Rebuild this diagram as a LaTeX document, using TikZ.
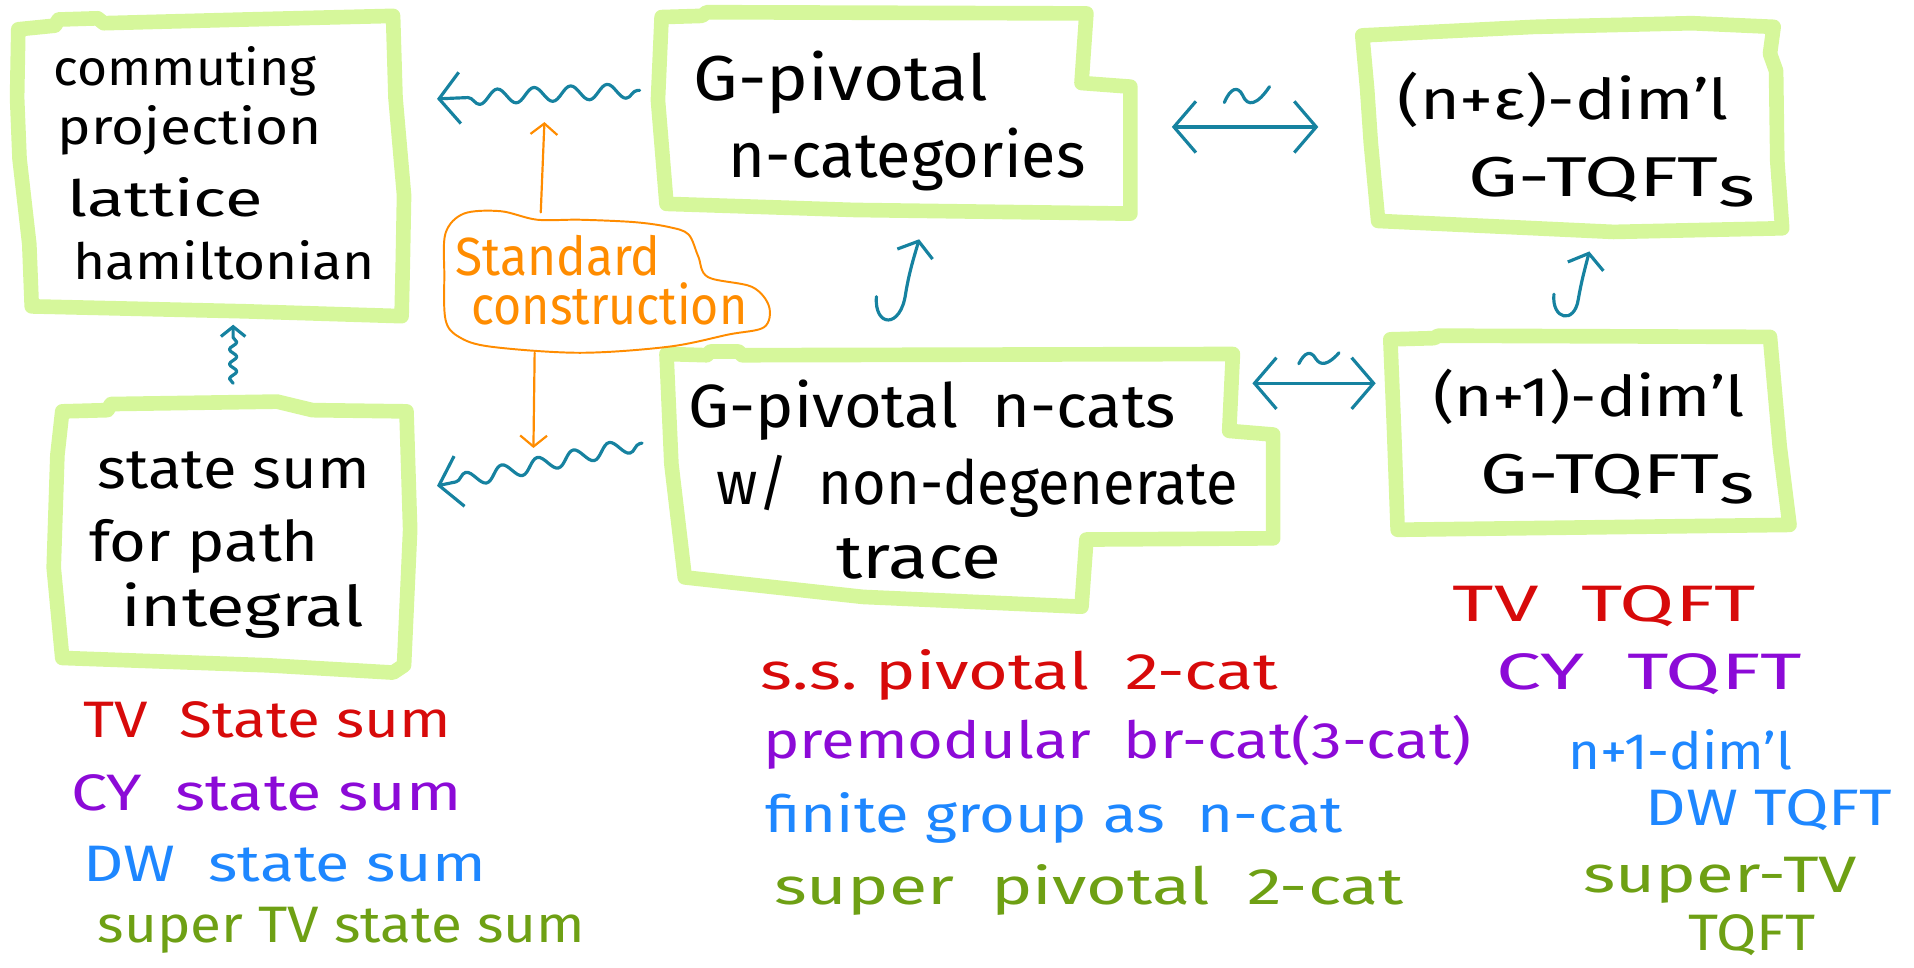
\documentclass[tikz,border=0pt]{standalone}
\usepackage{fontspec}
\setmainfont{Fira Sans}
\usetikzlibrary{arrows.meta,decorations.pathmorphing}
\definecolor{boxgreen}{RGB}{214,247,155}
\definecolor{tealc}{RGB}{22,130,160}
\definecolor{orng}{RGB}{255,140,0}
\definecolor{hred}{RGB}{215,10,10}
\definecolor{hpurple}{RGB}{140,10,215}
\definecolor{hblue}{RGB}{30,135,255}
\definecolor{hgreen}{RGB}{110,160,20}
\newcommand\fitw[2]{\resizebox{#1pt}{\height}{#2}}
\newcommand\tqs{G-TQFT\raisebox{-0.18em}{s}}
\begin{document}
\begin{tikzpicture}[x=1pt,y=-1pt,
  frame/.style={draw=boxgreen, line width=12pt, line join=round, line cap=round},
  hw/.style={inner sep=0pt, anchor=base west},
  fa/.style={hw, font=\fontsize{41}{46}\selectfont},
  fb/.style={hw, font=\fontsize{52}{58}\selectfont},
  fc/.style={hw, font=\fontsize{46}{52}\selectfont},
  fe/.style={hw, font=\fontsize{50}{56}\selectfont},
  fl/.style={hw, font=\fontsize{42}{48}\selectfont},
  conn/.style={draw=tealc, line width=2.6pt, line cap=round, line join=round},
  wavy/.style={decorate, decoration={snake, amplitude=6pt, segment length=30pt, pre length=2pt, post length=12pt}},
  bigbarb/.style={-{Straight Barb[length=17pt,width=42pt]}},
  dbarb/.style={{Straight Barb[length=18pt,width=42pt]}-{Straight Barb[length=18pt,width=42pt]}},
  hookbarb/.style={-{Straight Barb[length=11pt,width=30pt]}},
  oarr/.style={draw=orng, line width=1.8pt, line cap=round, -{Straight Barb[length=9pt,width=22pt]}}
]
\useasboundingbox (0,0) rectangle (1568,793);

% ---------- green frames ----------
\draw[frame] (15,24) -- (45,21) -- (48,16) -- (80,15) -- (85,19) -- (200,16) -- (322,13) -- (324,80) -- (331,160) -- (330,215) -- (329,259) -- (200,255) -- (26,251) -- (24,200) -- (16,130) -- (14,80) -- cycle;
\draw[frame] (542,14) -- (575,13) -- (579,10) -- (890,11) -- (886,68) -- (926,71) -- (926,175) -- (700,172) -- (546,167) -- (539,82) -- cycle;
\draw[frame] (1116,29) -- (1257,22) -- (1386,19) -- (1453,22) -- (1450,44) -- (1455,58) -- (1456,132) -- (1460,187) -- (1322,190) -- (1129,181) -- (1123,117) -- (1120,73) -- cycle;
\draw[frame] (1139,278) -- (1175,277) -- (1178,275) -- (1450,276) -- (1458,366) -- (1466,430) -- (1145,434) -- (1142,351) -- cycle;
\draw[frame] (546,290) -- (579,291) -- (582,288) -- (605,288) -- (608,291) -- (1010,290) -- (1007,353) -- (1043,356) -- (1043,441) -- (890,442) -- (886,497) -- (707,489) -- (561,473) -- (550,380) -- cycle;
\draw[frame] (51,337) -- (88,336) -- (91,331) -- (227,329) -- (256,336) -- (333,337) -- (336,434) -- (331,545) -- (322,551) -- (219,545) -- (51,539) -- (44,465) -- (47,373) -- cycle;

% ---------- box texts ----------
\node[fa] (tA1) at (44,70)  {\fitw{215}{commuting}};
\node[fa] (tA2) at (47,118) {\fitw{216}{projection}};
\node[fa] (tA3) at (55,177) {\fitw{160}{lattice}};
\node[fa] (tA4) at (60,229) {\fitw{247}{hamiltonian}};

\node[fb] (tB1) at (568,82)  {\fitw{241}{G-pivotal}};
\node[fb] (tB2) at (597,145) {\fitw{292}{n-categories}};

\node[fc] (tC1) at (1145,98)  {\fitw{271}{(n+ε)-dim’l}};
\node[fc] (tC2) at (1203,161) {\fitw{235}{\tqs}};

\node[fc] (tD1) at (1174,341) {\fitw{255}{(n+1)-dim’l}};
\node[fc] (tD2) at (1213,404) {\fitw{224}{\tqs}};

\node[fe] (tE1) at (564,350) {\fitw{399}{G-pivotal\ \ n-cats}};
\node[fe] (tE2) at (587,413) {\fitw{427}{w/\ \ non-degenerate}};
\node[fe] (tE3) at (685,474) {\fitw{135}{trace}};

\node[fc] (tF1) at (80,400) {\fitw{223}{state sum}};
\node[fc] (tF2) at (73,460) {\fitw{188}{for path}};
\node[fc] (tF3) at (99,513) {\fitw{199}{integral}};

% ---------- standard construction cloud ----------
\draw[orng, line width=1.6pt] plot[smooth cycle, tension=0.55] coordinates {
  (365,191) (380,175) (410,173) (440,180) (475,180) (520,182) (548,186) (564,192)
  (572,210) (580,227) (616,235) (630,251) (626,268) (597,274) (548,284) (475,289)
  (402,284) (376,276) (365,262) (364,225)};
\node[hw, text=orng, font=\fontsize{44}{50}\selectfont] (tS1) at (373,226) {\fitw{168}{Standard}};
\node[hw, text=orng, font=\fontsize{44}{50}\selectfont] (tS2) at (386,266) {\fitw{226}{construction}};

% ---------- connector end points ----------
\coordinate (wBAs) at (524,74);  \coordinate (wBAe) at (358,81);
\coordinate (wEFs) at (526,363); \coordinate (wEFe) at (358,398);
\coordinate (wFAs) at (191,314); \coordinate (wFAe) at (191,266);
\coordinate (oUs) at (443,174);  \coordinate (oUe) at (446,100);
\coordinate (oDs) at (438,289);  \coordinate (oDe) at (437,367);
\coordinate (hkBs) at (718,243); \coordinate (hkBe) at (753,196);
\coordinate (hkDs) at (1273,241); \coordinate (hkDe) at (1302,206);
\coordinate (dBCl) at (960,104); \coordinate (dBCr) at (1080,104);
\coordinate (dEDl) at (1026,314); \coordinate (dEDr) at (1127,314);

% ---------- connectors ----------
\draw[conn, wavy, bigbarb] (wBAs) -- (wBAe);
\draw[conn, wavy, bigbarb] (wEFs) -- (wEFe);
\draw[conn, decorate, decoration={snake, amplitude=3pt, segment length=12pt, post length=8pt},
      -{Straight Barb[length=8pt,width=20pt]}] (wFAs) -- (wFAe);
\draw[oarr] (oUs) -- (oUe);
\draw[oarr] (oDs) -- (oDe);
\draw[conn, hookbarb] (hkBs) .. controls (716,268) and (738,270) .. (742,240) .. controls (745,222) and (749,210) .. (hkBe);
\draw[conn, hookbarb] (hkDs) .. controls (1271,262) and (1290,266) .. (1293,245) .. controls (1296,228) and (1299,218) .. (hkDe);
\draw[conn, dbarb] (dBCl) -- (dBCr);
\draw[conn, dbarb] (dEDl) -- (dEDr);
% tildes over the equivalences
\draw[conn] (1003,84) .. controls (1008,72) and (1014,70) .. (1018,78) .. controls (1022,88) and (1030,86) .. (1040,71);
\draw[conn] (1064,298) .. controls (1069,288) and (1074,287) .. (1078,294) .. controls (1082,300) and (1088,299) .. (1097,289);

% ---------- example lists ----------
\node[fl, text=hred]    (lL1) at (68,604) {\fitw{301}{TV\ \ State sum}};
\node[fl, text=hpurple] (lL2) at (58,664) {\fitw{320}{CY\ \ state sum}};
\node[fl, text=hblue]   (lL3) at (68,722) {\fitw{330}{DW\ \ state sum}};
\node[fl, text=hgreen]  (lL4) at (80,772) {\fitw{399}{super TV state sum}};

\node[fl, text=hred]    (lM1) at (623,565) {\fitw{424}{s.s.\ pivotal\ \ 2-cat}};
\node[fl, text=hpurple] (lM2) at (625,621) {\fitw{580}{premodular\ \ br-cat(3-cat)}};
\node[fl, text=hblue]   (lM3) at (627,682) {\fitw{473}{finite group as\ \ n-cat}};
\node[fl, text=hgreen]  (lM4) at (634,741) {\fitw{516}{super\ \ pivotal\ \ 2-cat}};

\node[fl, text=hred]    (lR1) at (1190,509) {\fitw{248}{TV\ \ TQFT}};
\node[fl, text=hpurple] (lR2) at (1226,565) {\fitw{250}{CY\ \ TQFT}};
\node[fl, text=hblue]   (lR3) at (1285,630) {\fitw{183}{n+1-dim’l}};
\node[fl, text=hblue]   (lR4) at (1348,676) {\fitw{202}{DW TQFT}};
\node[fl, text=hgreen]  (lR5) at (1297,731) {\fitw{224}{super-TV}};
\node[fl, text=hgreen]  (lR6) at (1383,779) {\fitw{104}{TQFT}};
\end{tikzpicture}
\end{document}
